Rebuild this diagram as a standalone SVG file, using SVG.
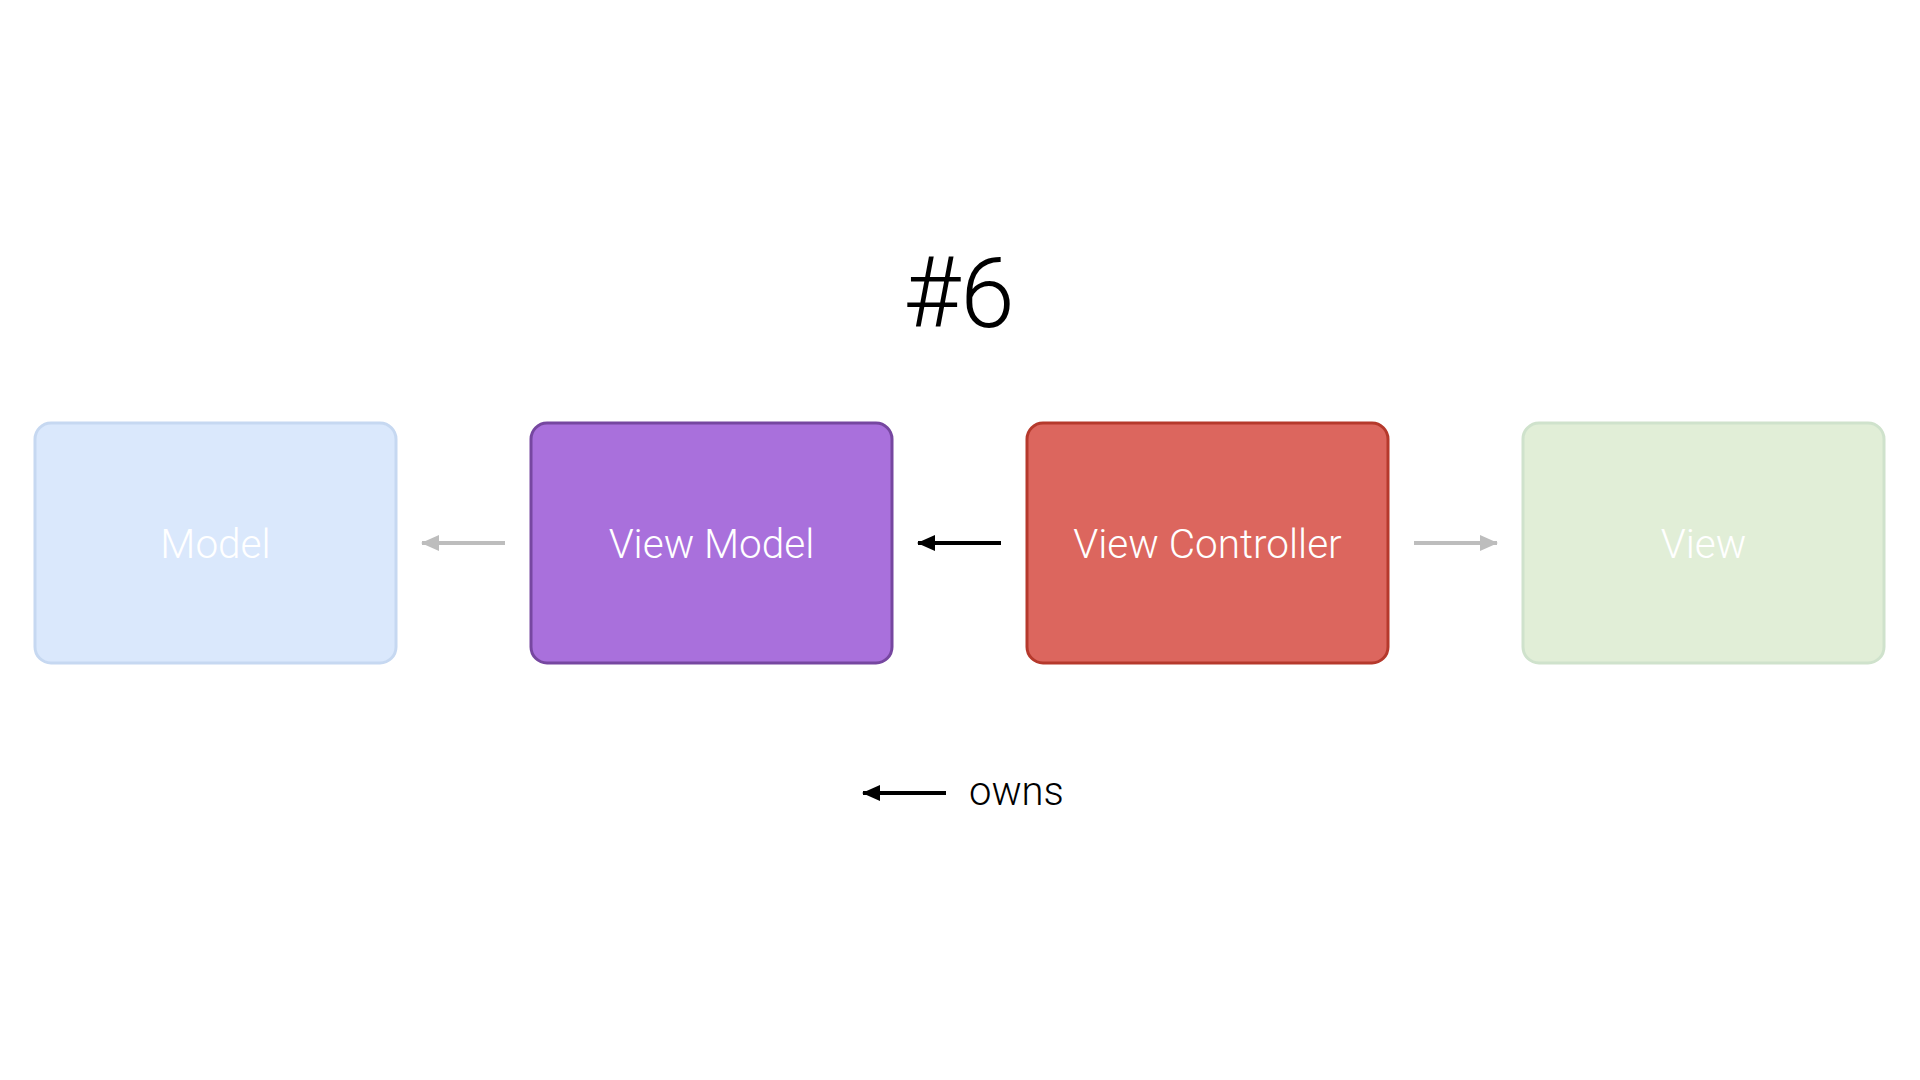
<svg xmlns="http://www.w3.org/2000/svg" width="1920" height="1080" viewBox="0 0 1920 1080">
<style>
.box{stroke-width:3}
.lbl{font-family:Roboto,"Liberation Sans",sans-serif;font-weight:300;font-size:40.5px;fill:#ffffff;text-anchor:middle}
.reg{font-family:Roboto,"Liberation Sans",Arial,sans-serif;font-weight:300;fill:#000000}
.gray{stroke:#bdbdbd;stroke-width:4;fill:none}
.black{stroke:#000000;stroke-width:4;fill:none}
</style>
<defs>
<marker id="ag" viewBox="0 0 18 16" refX="17" refY="8" markerWidth="18" markerHeight="16" markerUnits="userSpaceOnUse" orient="auto">
<path d="M0,0 L18,8 L0,16 Z" fill="#bdbdbd"/>
</marker>
<marker id="ab" viewBox="0 0 18 16" refX="17" refY="8" markerWidth="18" markerHeight="16" markerUnits="userSpaceOnUse" orient="auto">
<path d="M0,0 L18,8 L0,16 Z" fill="#000000"/>
</marker>
</defs>
<rect width="1920" height="1080" fill="#ffffff"/>
<text class="reg" x="959" y="327" font-size="98" text-anchor="middle">#6</text>
<g id="node-model">
<rect class="box" x="35" y="423" width="361" height="240" rx="16" fill="#dae8fc" stroke="#c6d8f1"/>
<text class="lbl" x="215.5" y="558">Model</text>
</g>
<g id="node-viewmodel">
<rect class="box" x="531" y="423" width="361" height="240" rx="16" fill="#a970dc" stroke="#7647a0"/>
<text class="lbl" x="711.5" y="558">View Model</text>
</g>
<g id="node-viewcontroller">
<rect class="box" x="1027" y="423" width="361" height="240" rx="16" fill="#dc665e" stroke="#b5392c"/>
<text class="lbl" x="1207.5" y="558">View Controller</text>
</g>
<g id="node-view">
<rect class="box" x="1523" y="423" width="361" height="240" rx="16" fill="#e1eed7" stroke="#cfe2cc"/>
<text class="lbl" x="1703.5" y="558">View</text>
</g>
<g id="connectors">
<line class="gray" x1="505" y1="543" x2="422" y2="543" marker-end="url(#ag)"/>
<line class="black" x1="1001" y1="543" x2="918" y2="543" marker-end="url(#ab)"/>
<line class="gray" x1="1414" y1="543" x2="1497" y2="543" marker-end="url(#ag)"/>
</g>
<g id="legend">
<line class="black" x1="946" y1="793" x2="863" y2="793" marker-end="url(#ab)"/>
<text class="reg" x="969" y="805" font-size="40">owns</text>
</g>
</svg>
